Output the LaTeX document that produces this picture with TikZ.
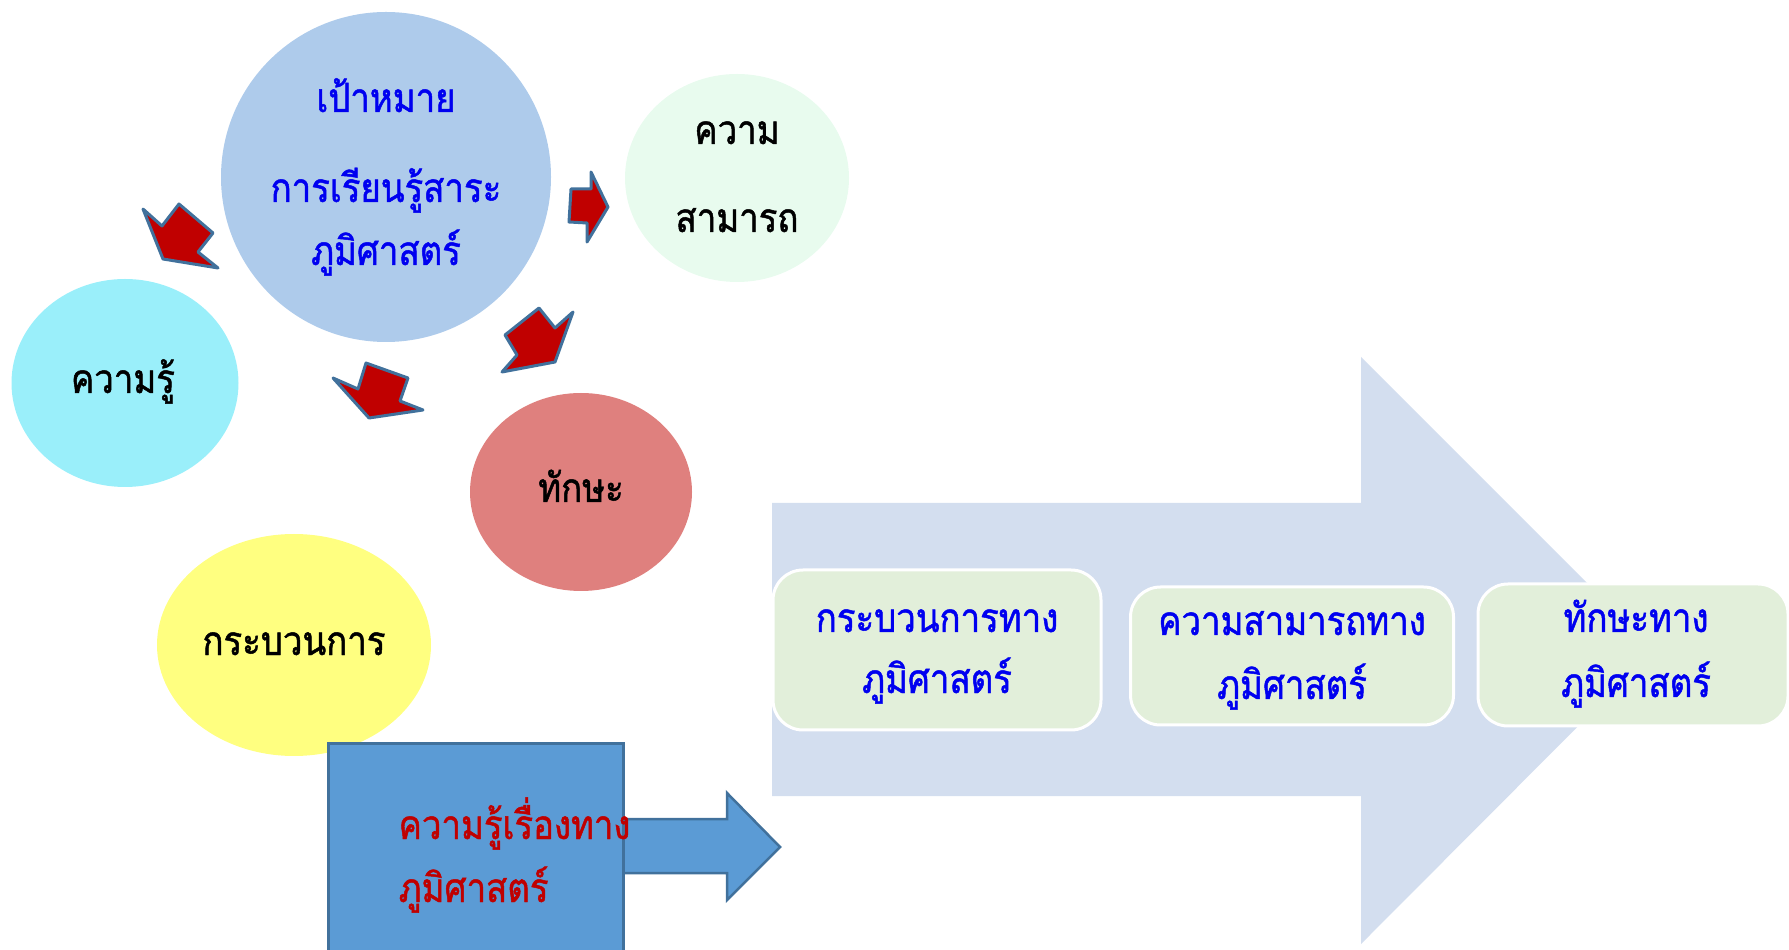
\documentclass[tikz,border=0pt]{standalone}
\usepackage{fontspec}
\newfontfamily\thaifont[Script=Thai, FakeStretch=0.86, FakeBold=1.2]{Loma}
\usetikzlibrary{positioning,shapes.geometric}

\definecolor{goalblue}{HTML}{AECBEB}
\definecolor{mint}{HTML}{E8FBEE}
\definecolor{skycyan}{HTML}{9AEFFA}
\definecolor{salmon}{HTML}{DF807E}
\definecolor{paleyellow}{HTML}{FFFF80}
\definecolor{boxblue}{HTML}{5B9BD5}
\definecolor{edgeblue}{HTML}{41719C}
\definecolor{flowblue}{HTML}{D3DEEF}
\definecolor{palegreen}{HTML}{E2EFDA}
\definecolor{darkred}{HTML}{C00000}
\definecolor{textblue}{HTML}{0000F0}

\tikzset{
  bubble/.style={ellipse, inner sep=0pt},
  thtext/.style={anchor=base, inner sep=0pt, font=\thaifont\fontsize{11.5}{14}\selectfont},
  topicbox/.style={rectangle, rounded corners=3mm, fill=palegreen, draw=white, line width=0.3mm, inner sep=0pt},
  redarrow/.style={fill=darkred, draw=edgeblue, line width=0.3mm, line join=round},
}

\begin{document}
\begin{tikzpicture}[x=0.1mm, y=-0.1mm]
    \useasboundingbox (0,0) rectangle (1789,950);

    % big flow arrow
    \fill[flowblue] (772,503) -- (1361,503) -- (1361,357) -- (1654,650)
      -- (1361,944) -- (1361,796) -- (772,796) -- cycle;

    \node (P1) [topicbox, minimum width=32.8mm, minimum height=16mm] at (937,650) {};
    \node (P2) [topicbox, minimum width=32.3mm, minimum height=13.8mm] at (1292,656) {};
    \node (P3) [topicbox, minimum width=31mm, minimum height=14.2mm] at (1633,655) {};

    \node[thtext, textblue] at (937,632) {กระบวนการทาง};
    \node[thtext, textblue] at (937,693) {ภูมิศาสตร์};
    \node[thtext, textblue] at (1292,635) {ความสามารถทาง};
    \node[thtext, textblue] at (1292,699) {ภูมิศาสตร์};
    \node[thtext, textblue] at (1636,632) {ทักษะทาง};
    \node[thtext, textblue] at (1636,697) {ภูมิศาสตร์};

    % bubbles
    \node (goal) [bubble, fill=goalblue, minimum width=33mm, minimum height=33mm] at (386,177) {};
    \node (ability) [bubble, fill=mint, minimum width=22.4mm, minimum height=20.8mm] at (737,178) {};
    \node (know) [bubble, fill=skycyan, minimum width=22.7mm, minimum height=20.8mm] at (125,383) {};
    \node (skill) [bubble, fill=salmon, minimum width=22.2mm, minimum height=19.8mm] at (581,492) {};
    \node (proc) [bubble, fill=paleyellow, minimum width=27.4mm, minimum height=22.2mm] at (294,645) {};

    \node[thtext, textblue] at (386,112) {เป้าหมาย};
    \node[thtext, textblue] at (386,202) {การเรียนรู้สาระ};
    \node[thtext, textblue] at (386,265) {ภูมิศาสตร์};
    \node[thtext] at (737,144) {ความ};
    \node[thtext] at (737,232) {สามารถ};
    \node[thtext] at (123,393) {ความรู้};
    \node[thtext] at (581,502) {ทักษะ};
    \node[thtext] at (294,655) {กระบวนการ};

    % knowledge box and its arrow
    \draw[fill=boxblue, draw=edgeblue, line width=0.25mm] (622,819) -- (727,819) -- (727,793)
      -- (780,847) -- (727,900) -- (727,873) -- (622,873);
    \node (kbox) [rectangle, fill=boxblue, draw=edgeblue, line width=0.25mm, inner sep=0pt,
      minimum width=29.5mm, minimum height=22mm, anchor=north west] at (327,742) {};
    \node[thtext, anchor=base west, darkred] at (398,839) {ความรู้เรื่องทาง};
    \node[thtext, anchor=base west, darkred] at (398,902) {ภูมิศาสตร์};

    % red arrows
    \draw[redarrow] (163,259) -- (143,209) -- (162,226) -- (179,204) -- (213,233)
      -- (198,252) -- (218,268) -- cycle;
    \draw[redarrow] (369,418) -- (333,378) -- (358,389) -- (366,363) -- (408,378)
      -- (400,401) -- (423,410) -- cycle;
    \draw[redarrow] (555,362) -- (502,372) -- (517,355) -- (505,335) -- (539,308)
      -- (555,328) -- (573,312) -- cycle;
    \draw[redarrow] (608,207) -- (587,242) -- (587,223) -- (569,222) -- (571,189)
      -- (591,189) -- (591,172) -- cycle;
\end{tikzpicture}
\end{document}
